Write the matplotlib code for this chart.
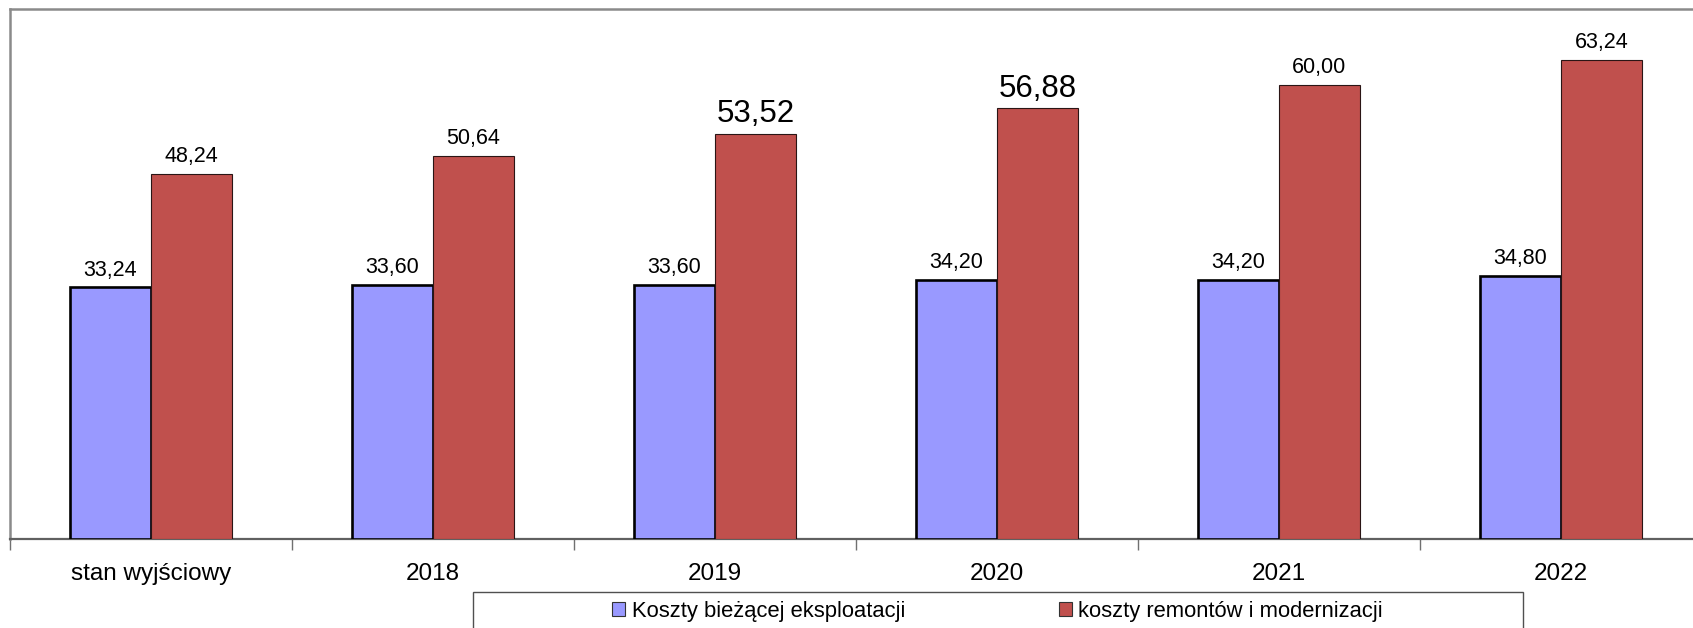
import matplotlib
matplotlib.use("Agg")
import matplotlib.pyplot as plt
from matplotlib.patches import Patch, Rectangle
import numpy as np

plt.rcParams['font.family'] = ['Liberation Sans', 'DejaVu Sans']

categories = ['stan wyjściowy', '2018', '2019', '2020', '2021', '2022']
koszty_biezace = [33.24, 33.60, 33.60, 34.20, 34.20, 34.80]
koszty_remontow = [48.24, 50.64, 53.52, 56.88, 60.00, 63.24]
series_names = ['Koszty bieżącej eksploatacji', 'koszty remontów i modernizacji']

# red labels shown in a larger type
emphasized = {2, 3}

W, H, DPI = 1693, 628, 100
fig = plt.figure(figsize=(W / DPI, H / DPI), dpi=DPI)
fig.patch.set_facecolor('white')

# plot area in pixels: left 10, top 9, baseline 539, right beyond the canvas
x0, x1, ytop, ybase = 10, 1702, 9, 539
ax = fig.add_axes([x0 / W, (H - ybase) / H, (x1 - x0) / W, (ybase - ytop) / H])

x = np.arange(len(categories))
bw = 0.287
blue = '#9999FF'
red = '#C0504D'

b1 = ax.bar(x - bw / 2, koszty_biezace, bw, color=blue, edgecolor='black', linewidth=1.9, zorder=3)
b2 = ax.bar(x + bw / 2, koszty_remontow, bw, color=red, edgecolor='#2a1515', linewidth=0.8, zorder=3)

def fmt(v):
    return f"{v:.2f}".replace('.', ',')

for i, r in enumerate(b1):
    ax.annotate(fmt(koszty_biezace[i]), (r.get_x() + r.get_width() / 2, r.get_height()),
                xytext=(0, 8.5), textcoords='offset points', ha='center', va='baseline',
                fontsize=15.5, color='black')
for i, r in enumerate(b2):
    ax.annotate(fmt(koszty_remontow[i]), (r.get_x() + r.get_width() / 2, r.get_height()),
                xytext=(0, 8.5), textcoords='offset points', ha='center', va='baseline',
                fontsize=22.5 if i in emphasized else 15.5, color='black')

ax.set_xlim(-0.5, len(categories) - 0.5)
ax.set_ylim(0, 70)
ax.set_yticks([])

ax.set_xticks(x)
ax.set_xticklabels(categories, fontsize=17.5)
ax.set_xticks(np.arange(-0.5, len(categories), 1.0), minor=True)
ax.tick_params(axis='x', which='major', length=0, pad=17.5)
ax.tick_params(axis='x', which='minor', length=7.9, width=1, color='#707070', direction='out')

for side in ('top', 'left'):
    ax.spines[side].set_color('#8a8a8a')
    ax.spines[side].set_linewidth(1.8)
ax.spines['bottom'].set_color('#606060')
ax.spines['bottom'].set_linewidth(1.6)
ax.spines['right'].set_visible(False)

# legend frame running off the bottom edge
fig.patches.append(Rectangle((473 / W, -0.05), (1523 - 473) / W, (H - 592) / H + 0.05,
                             transform=fig.transFigure, facecolor='white',
                             edgecolor='#505050', linewidth=1.0, clip_on=False))

handles = [Patch(facecolor=blue, edgecolor='#333333', linewidth=0.8),
           Patch(facecolor=red, edgecolor='#333333', linewidth=0.8)]
fig.legend(handles, series_names, loc='center', bbox_to_anchor=(997.5 / W, (H - 611) / H),
           ncol=2, frameon=False, fontsize=15.8, handlelength=0.6, handleheight=0.6,
           handletextpad=0.3, columnspacing=7.0, borderpad=0, borderaxespad=0)

fig.savefig('out.png', dpi=DPI, facecolor='white')
